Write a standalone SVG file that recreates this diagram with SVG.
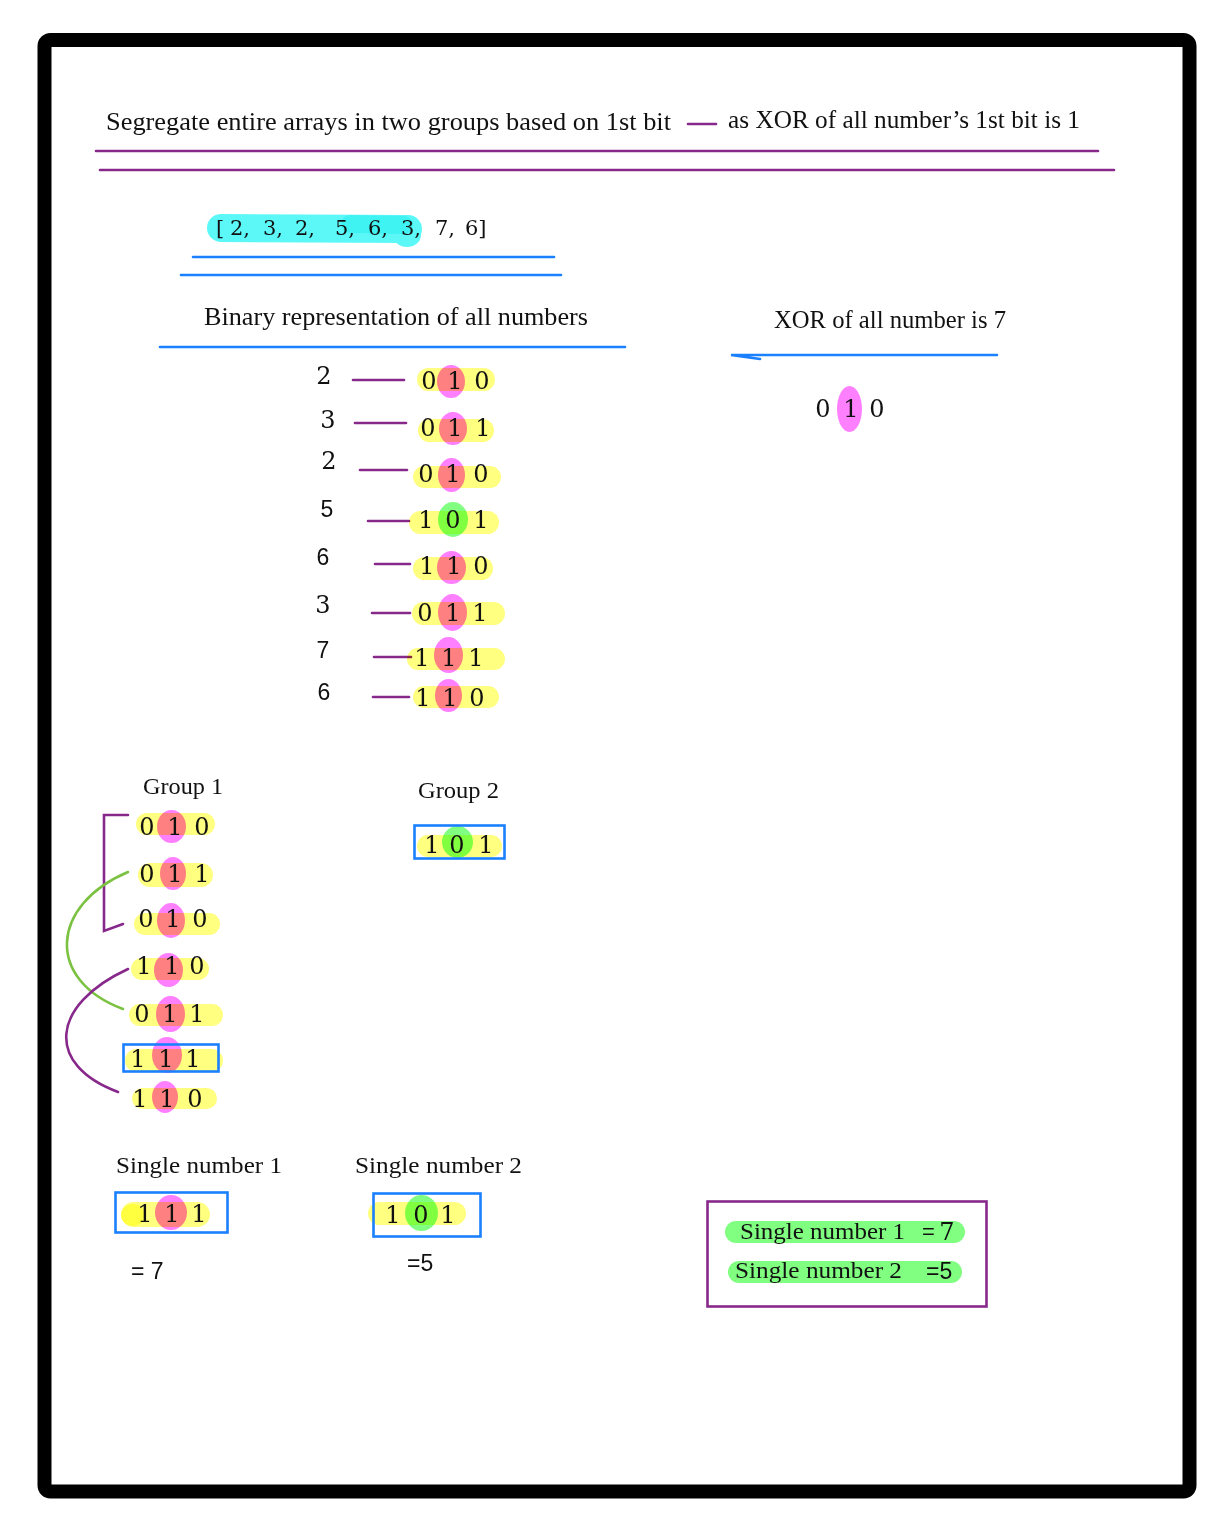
<svg xmlns="http://www.w3.org/2000/svg" width="1232" height="1534" viewBox="0 0 1232 1534">
  <style>
    .t { font-family: "Liberation Serif", "DejaVu Serif", serif; fill: #111; }
    .s { font-family: "Liberation Sans", Arial, sans-serif; fill: #111; }
    .d { font-family: "DejaVu Serif", "Liberation Serif", serif; font-size: 24px; fill: #111; text-anchor: middle; }
    .yl { fill: #ffff80; mix-blend-mode: multiply; }
    .pk { fill: #ff80ff; mix-blend-mode: multiply; }
    .gn { fill: #80ff80; mix-blend-mode: multiply; }
    .pu { stroke: #87288b; stroke-width: 2.6; fill: none; stroke-linecap: round; }
    .bl { stroke: #1a80ff; stroke-width: 2.6; fill: none; stroke-linecap: round; }
    .box { stroke: #1a80ff; stroke-width: 2.6; fill: none; }
  </style>

  <rect x="0" y="0" width="1232" height="1534" fill="#fff"/>
  <!-- outer frame -->
  <rect x="44.5" y="40" width="1145" height="1451.5" rx="6" fill="none" stroke="#000" stroke-width="14"/>

  <!-- heading -->
  <g id="title">
    <text class="t" x="106" y="130" font-size="25" textLength="565" lengthAdjust="spacingAndGlyphs">Segregate entire arrays in two groups based on 1st bit</text>
    <line class="pu" x1="688" y1="124" x2="716" y2="124"/>
    <text class="t" x="728" y="128" font-size="25" textLength="352" lengthAdjust="spacingAndGlyphs">as XOR of all number’s 1st bit is 1</text>
    <line class="pu" x1="96" y1="151" x2="1098" y2="151"/>
    <line class="pu" x1="100" y1="170" x2="1114" y2="170"/>
  </g>

  <!-- input array -->
  <g id="array">
    <path d="M221,228 L408,229" stroke="#5cf8f8" stroke-width="28" stroke-linecap="round" fill="none"/>
    <ellipse cx="407" cy="235" rx="14" ry="12" fill="#5cf8f8"/>
    <path d="M350,224 L404,225" stroke="#b0fafa" stroke-width="18" stroke-linecap="round" fill="none" style="mix-blend-mode:multiply"/>
    <g font-family="DejaVu Serif, Liberation Serif, serif" font-size="21" fill="#111">
      <text x="216" y="235">[</text>
      <text x="230" y="235">2,</text>
      <text x="263" y="235">3,</text>
      <text x="295" y="235">2,</text>
      <text x="335" y="235">5,</text>
      <text x="368" y="235">6,</text>
      <text x="401" y="235">3,</text>
      <text x="435" y="235">7,</text>
      <text x="465" y="235">6]</text>
    </g>
    <line class="bl" x1="193" y1="257" x2="554" y2="257"/>
    <line class="bl" x1="181" y1="275" x2="561" y2="275"/>
  </g>

  <!-- binary table heading -->
  <g id="binary-heading">
    <text class="t" x="204" y="325" font-size="25" textLength="384" lengthAdjust="spacingAndGlyphs">Binary representation of all numbers</text>
    <line class="bl" x1="160" y1="347" x2="625" y2="347"/>
  </g>

  <!-- XOR of all numbers -->
  <g id="xor-all">
    <text class="t" x="774" y="328" font-size="25" textLength="232" lengthAdjust="spacingAndGlyphs">XOR of all number is 7</text>
    <path class="bl" d="M997,355 L731,355 L760,359"/>
    <ellipse class="pk" cx="849.5" cy="409" rx="12.5" ry="23"/>
    <text class="d" x="823" y="417">0</text>
    <text class="d" x="851" y="417">1</text>
    <text class="d" x="877" y="417">0</text>
  </g>

  <!-- connectors: number to binary dashes, group-1 brackets -->
  <g id="connectors">
    <line class="pu" x1="353" y1="380" x2="404" y2="380"/>
    <line class="pu" x1="355" y1="423" x2="406" y2="423"/>
    <line class="pu" x1="360" y1="470" x2="407" y2="470"/>
    <line class="pu" x1="368" y1="521" x2="409" y2="521"/>
    <line class="pu" x1="375" y1="564" x2="410" y2="564"/>
    <line class="pu" x1="372" y1="613" x2="410" y2="613"/>
    <line class="pu" x1="374" y1="657" x2="411" y2="657"/>
    <line class="pu" x1="373" y1="697" x2="409" y2="697"/>
    <path class="pu" d="M128,815 L104,815 L104,931 L123,924"/>
    <path d="M128,872 C50,905 45,980 123,1009" stroke="#7cc242" stroke-width="2.6" fill="none" stroke-linecap="round"/>
    <path class="pu" d="M128,969 C50,1005 45,1065 118,1092"/>
  </g>

  <!-- number labels -->
  <g id="labels" font-size="23" text-anchor="middle">
    <text class="d" x="324" y="384" font-size="23">2</text>
    <text class="d" x="328" y="428" font-size="23">3</text>
    <text class="d" x="329" y="469" font-size="23">2</text>
    <text class="s" x="327" y="517">5</text>
    <text class="s" x="323" y="565">6</text>
    <text class="d" x="323" y="613" font-size="23">3</text>
    <text class="s" x="323" y="658">7</text>
    <text class="s" x="324" y="700">6</text>
  </g>

  <!-- binary rows -->
  <g id="row-2a">
    <rect class="yl" x="417" y="368" width="78" height="23" rx="11.5"/>
    <ellipse class="pk" cx="451" cy="381.5" rx="14" ry="16.5"/>
    <text class="d" x="429" y="389">0</text><text class="d" x="455" y="389">1</text><text class="d" x="482" y="389">0</text>
  </g>
  <g id="row-3a">
    <rect class="yl" x="418" y="419" width="76" height="23" rx="11.5"/>
    <ellipse class="pk" cx="453" cy="428.5" rx="14" ry="16.5"/>
    <text class="d" x="428" y="436">0</text><text class="d" x="455" y="436">1</text><text class="d" x="483" y="436">1</text>
  </g>
  <g id="row-2b">
    <rect class="yl" x="413" y="466" width="88" height="22" rx="11"/>
    <ellipse class="pk" cx="451.5" cy="475" rx="13.5" ry="17"/>
    <text class="d" x="426" y="482">0</text><text class="d" x="453" y="482">1</text><text class="d" x="481" y="482">0</text>
  </g>
  <g id="row-5">
    <rect class="yl" x="409" y="511" width="90" height="23" rx="11.5"/>
    <ellipse class="gn" cx="453" cy="519.5" rx="15" ry="17.5"/>
    <text class="d" x="426" y="528">1</text><text class="d" x="453" y="528">0</text><text class="d" x="481" y="528">1</text>
  </g>
  <g id="row-6a">
    <rect class="yl" x="413" y="557" width="80" height="23" rx="11.5"/>
    <ellipse class="pk" cx="451.5" cy="567.5" rx="14.5" ry="16.5"/>
    <text class="d" x="427" y="574">1</text><text class="d" x="454" y="574">1</text><text class="d" x="481" y="574">0</text>
  </g>
  <g id="row-3b">
    <rect class="yl" x="412" y="602" width="93" height="23" rx="11.5"/>
    <ellipse class="pk" cx="452.5" cy="612.5" rx="14.5" ry="18.5"/>
    <text class="d" x="425" y="621">0</text><text class="d" x="453" y="621">1</text><text class="d" x="480" y="621">1</text>
  </g>
  <g id="row-7">
    <rect class="yl" x="407" y="648" width="98" height="22" rx="11"/>
    <ellipse class="pk" cx="448.5" cy="655" rx="14.5" ry="18"/>
    <text class="d" x="422" y="666">1</text><text class="d" x="449" y="666">1</text><text class="d" x="476" y="666">1</text>
  </g>
  <g id="row-6b">
    <rect class="yl" x="413" y="686" width="86" height="22" rx="11"/>
    <ellipse class="pk" cx="448.5" cy="695.5" rx="13.5" ry="16.5"/>
    <text class="d" x="423" y="706">1</text><text class="d" x="450" y="706">1</text><text class="d" x="477" y="706">0</text>
  </g>

  <!-- group 1 -->
  <g id="group-1">
    <text class="t" x="143" y="794" font-size="24" textLength="80" lengthAdjust="spacingAndGlyphs">Group 1</text>
    <rect class="yl" x="136" y="813" width="79" height="22" rx="11"/>
    <ellipse class="pk" cx="171.5" cy="826.5" rx="14.5" ry="16.5"/>
    <text class="d" x="147" y="835">0</text><text class="d" x="175" y="835">1</text><text class="d" x="202" y="835">0</text>

    <rect class="yl" x="138" y="863" width="75" height="24" rx="12"/>
    <ellipse class="pk" cx="173" cy="873.5" rx="13" ry="16.5"/>
    <text class="d" x="147" y="882">0</text><text class="d" x="175" y="882">1</text><text class="d" x="202" y="882">1</text>

    <rect class="yl" x="134" y="913" width="86" height="22" rx="11"/>
    <ellipse class="pk" cx="171" cy="920.5" rx="14" ry="17.5"/>
    <text class="d" x="146" y="927">0</text><text class="d" x="173" y="927">1</text><text class="d" x="200" y="927">0</text>

    <rect class="yl" x="131" y="958" width="78" height="22" rx="11"/>
    <ellipse class="pk" cx="168.5" cy="970" rx="14.5" ry="17"/>
    <text class="d" x="144" y="974">1</text><text class="d" x="172" y="974">1</text><text class="d" x="197" y="974">0</text>

    <rect class="yl" x="129" y="1004" width="94" height="22" rx="11"/>
    <ellipse class="pk" cx="170.5" cy="1014" rx="14.5" ry="18"/>
    <text class="d" x="142" y="1022">0</text><text class="d" x="170" y="1022">1</text><text class="d" x="197" y="1022">1</text>

    <rect class="yl" x="125" y="1049" width="98" height="23" rx="11.5"/>
    <ellipse class="pk" cx="167" cy="1055" rx="15" ry="18"/>
    <text class="d" x="138" y="1067">1</text><text class="d" x="166" y="1067">1</text><text class="d" x="193" y="1067">1</text>
    <rect class="box" x="123.5" y="1044.5" width="95" height="27"/>

    <rect class="yl" x="132" y="1088" width="85" height="21" rx="10.5"/>
    <ellipse class="pk" cx="165" cy="1097" rx="13" ry="16"/>
    <text class="d" x="140" y="1107">1</text><text class="d" x="167" y="1107">1</text><text class="d" x="195" y="1107">0</text>
  </g>

  <!-- group 2 -->
  <g id="group-2">
    <text class="t" x="418" y="798" font-size="24" textLength="81" lengthAdjust="spacingAndGlyphs">Group 2</text>
    <rect class="yl" x="417" y="835" width="85" height="22" rx="11"/>
    <ellipse class="gn" cx="457.5" cy="842" rx="15.5" ry="16"/>
    <text class="d" x="432" y="853">1</text><text class="d" x="457" y="853">0</text><text class="d" x="486" y="853">1</text>
    <rect class="box" x="414.5" y="825.5" width="90" height="33"/>
  </g>

  <!-- single number 1 -->
  <g id="single-1">
    <text class="t" x="116" y="1173" font-size="23" textLength="166" lengthAdjust="spacingAndGlyphs">Single number 1</text>
    <rect class="yl" x="121" y="1202" width="89" height="25" rx="12.5"/>
    <ellipse class="yl" cx="133" cy="1215" rx="12" ry="11"/>
    <ellipse class="pk" cx="171" cy="1212.5" rx="16" ry="17.5"/>
    <text class="d" x="145" y="1222">1</text><text class="d" x="172" y="1222">1</text><text class="d" x="199" y="1222">1</text>
    <rect class="box" x="115.5" y="1192.5" width="112" height="40"/>
    <text class="s" x="131" y="1279" font-size="23">= 7</text>
  </g>

  <!-- single number 2 -->
  <g id="single-2">
    <text class="t" x="355" y="1173" font-size="23" textLength="167" lengthAdjust="spacingAndGlyphs">Single number 2</text>
    <rect class="yl" x="368" y="1202" width="98" height="23" rx="11.5"/>
    <ellipse class="gn" cx="421.5" cy="1213" rx="16.5" ry="18"/>
    <text class="d" x="393" y="1223">1</text><text class="d" x="421" y="1223">0</text><text class="d" x="448" y="1223">1</text>
    <rect class="box" x="373.5" y="1193.5" width="107" height="43"/>
    <text class="s" x="407" y="1271" font-size="23">=5</text>
  </g>

  <!-- result summary -->
  <g id="result">
    <rect x="707.5" y="1201.5" width="279" height="105" fill="none" stroke="#87288b" stroke-width="2.6"/>
    <rect class="gn" x="725" y="1221" width="240" height="22" rx="11"/>
    <rect class="gn" x="728" y="1261" width="234" height="22" rx="11"/>
    <text class="t" x="740" y="1239" font-size="23" textLength="165" lengthAdjust="spacingAndGlyphs">Single number 1</text>
    <text class="s" x="922" y="1239" font-size="22">=</text>
    <text class="d" x="947" y="1240" font-size="23">7</text>
    <text class="t" x="735" y="1278" font-size="23" textLength="167" lengthAdjust="spacingAndGlyphs">Single number 2</text>
    <text class="s" x="926" y="1279" font-size="23">=5</text>
  </g>
</svg>
